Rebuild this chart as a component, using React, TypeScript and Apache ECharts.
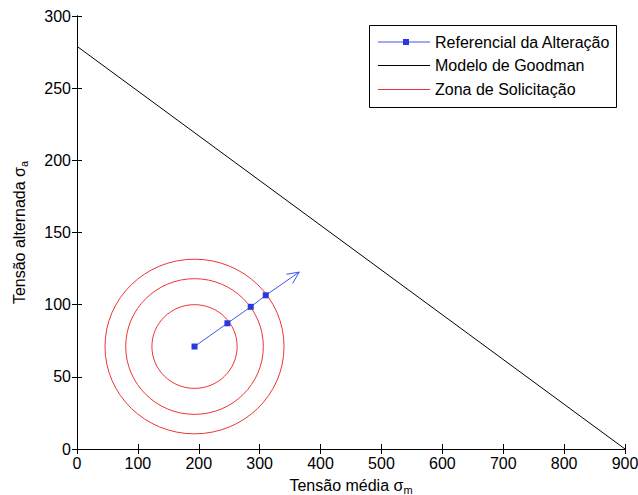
import React, { useEffect, useRef } from "react";
import * as echarts from "echarts";

// ---- Data ----
const seriesNames = ["Referencial da Alteração", "Modelo de Goodman", "Zona de Solicitação"];
const goodmanX = [0, 900];
const goodmanY = [279, 0];
const refX = [193, 247, 285.3, 310, 365];
const refY = [71, 87.1, 98.5, 106.5, 122.6];
const zoneCenter = [193, 71];
const zoneRx = [70, 113, 147];
const zoneRy = [29, 47, 60.5];
const xMin = 0, xMax = 900, xStep = 100;
const yMin = 0, yMax = 300, yStep = 50;

const FONT = "'Liberation Sans', Arial, sans-serif";
const BLUE_LINE = "#4052f0";
const BLUE_MARK = "#2a3ad8";
const RED = "#f03434";

export default function App() {
  const ref = useRef<HTMLDivElement>(null);
  useEffect(() => {
    if (!ref.current) return;
    const chart = echarts.init(ref.current, undefined, { renderer: "svg" });

    const axisCommon = {
      type: "value" as const,
      axisLine: { show: true, lineStyle: { color: "#000", width: 1 } },
      axisTick: { show: true, inside: true, length: 5, lineStyle: { color: "#000" } },
      splitLine: { show: false },
    };
    const nameRich = {
      m: { fontSize: 16, fontFamily: FONT, color: "#000", lineHeight: 20 },
      s: { fontSize: 16, fontFamily: FONT, color: "#000", lineHeight: 20 },
      sub: { fontSize: 11, fontFamily: FONT, color: "#000", verticalAlign: "bottom" as const, lineHeight: 20 },
    };

    const refData = refX.map((x, i) =>
      i === refX.length - 1 ? { value: [x, refY[i]], symbol: "none" } : { value: [x, refY[i]] }
    );
    const n = refX.length;

    chart.setOption({
      animation: false,
      backgroundColor: "#fff",
      grid: { left: 77, right: 13, top: 16, bottom: 46, containLabel: false, outerBoundsMode: "none" },
      xAxis: [
        {
          ...axisCommon,
          min: xMin, max: xMax, interval: xStep,
          position: "bottom",
          axisLabel: { color: "#000", fontSize: 16, fontFamily: FONT, margin: 6 },
          name: "{m|Tensão média }{s|σ}{sub|m}",
          nameLocation: "middle",
          nameGap: 26,
          nameTextStyle: { rich: nameRich },
        },
        {
          ...axisCommon,
          min: xMin, max: xMax, interval: xStep,
          position: "top",
          axisLabel: { show: false },
        },
      ],
      yAxis: [
        {
          ...axisCommon,
          min: yMin, max: yMax, interval: yStep,
          position: "left",
          axisLabel: { color: "#000", fontSize: 16, fontFamily: FONT, margin: 6 },
          name: "{m|Tensão alternada }{s|σ}{sub|a}",
          nameLocation: "middle",
          nameRotate: 90,
          nameGap: 48,
          nameTextStyle: { rich: nameRich },
        },
        {
          ...axisCommon,
          min: yMin, max: yMax, interval: yStep,
          position: "right",
          axisLabel: { show: false },
        },
      ],
      series: [
        {
          name: seriesNames[1],
          type: "line",
          data: goodmanX.map((x, i) => [x, goodmanY[i]]),
          symbol: "none",
          lineStyle: { color: "#000", width: 1 },
          z: 2,
        },
        {
          name: seriesNames[2],
          type: "custom",
          data: zoneRx.map((rx, i) => [zoneCenter[0], zoneCenter[1], rx, zoneRy[i]]),
          encode: { x: 0, y: 1 },
          renderItem: (params: any, api: any) => {
            const c = api.coord([api.value(0), api.value(1)]);
            const s = api.size([api.value(2), api.value(3)]);
            return {
              type: "ellipse",
              shape: { cx: c[0], cy: c[1], rx: s[0], ry: s[1] },
              style: { fill: "none", stroke: RED, lineWidth: 1 },
            };
          },
          z: 3,
        },
        {
          name: seriesNames[0],
          type: "line",
          data: refData,
          symbol: "rect",
          symbolSize: 6,
          itemStyle: { color: BLUE_MARK },
          lineStyle: { color: BLUE_LINE, width: 1 },
          z: 4,
        },
        {
          name: seriesNames[0] + " (seta)",
          type: "custom",
          data: [[refX[n - 1], refY[n - 1], refX[n - 2], refY[n - 2]]],
          encode: { x: 0, y: 1 },
          renderItem: (params: any, api: any) => {
            const t = api.coord([api.value(0), api.value(1)]);
            const p = api.coord([api.value(2), api.value(3)]);
            const ang = Math.atan2(p[1] - t[1], p[0] - t[0]);
            const L = 13;
            const a = (25 * Math.PI) / 180;
            return {
              type: "polyline",
              shape: {
                points: [
                  [t[0] + L * Math.cos(ang + a), t[1] + L * Math.sin(ang + a)],
                  [t[0], t[1]],
                  [t[0] + L * Math.cos(ang - a), t[1] + L * Math.sin(ang - a)],
                ],
              },
              style: { fill: "none", stroke: BLUE_LINE, lineWidth: 1 },
            };
          },
          z: 4,
        },
      ],
      graphic: [
        {
          type: "rect",
          shape: { x: 369.5, y: 25.5, width: 247, height: 82 },
          style: { fill: "#fff", stroke: "#000", lineWidth: 1 },
          z: 100,
        },
        { type: "line", shape: { x1: 378, y1: 42, x2: 430, y2: 42 }, style: { stroke: BLUE_LINE, lineWidth: 1 }, z: 101 },
        { type: "rect", shape: { x: 403, y: 39, width: 6, height: 6 }, style: { fill: BLUE_MARK }, z: 102 },
        { type: "text", x: 435, y: 42, style: { text: seriesNames[0], fontSize: 16, fontFamily: FONT, fill: "#000", verticalAlign: "middle", align: "left" }, z: 101 },
        { type: "line", shape: { x1: 378, y1: 65.5, x2: 430, y2: 65.5 }, style: { stroke: "#000", lineWidth: 1 }, z: 101 },
        { type: "text", x: 435, y: 65.5, style: { text: seriesNames[1], fontSize: 16, fontFamily: FONT, fill: "#000", verticalAlign: "middle", align: "left" }, z: 101 },
        { type: "line", shape: { x1: 378, y1: 89.5, x2: 430, y2: 89.5 }, style: { stroke: RED, lineWidth: 1 }, z: 101 },
        { type: "text", x: 435, y: 89.5, style: { text: seriesNames[2], fontSize: 16, fontFamily: FONT, fill: "#000", verticalAlign: "middle", align: "left" }, z: 101 },
      ],
    });
    return () => chart.dispose();
  }, []);

  return (
    <div
      ref={ref}
      style={{ position: "fixed", left: 0, top: 0, width: 638, height: 495, background: "#fff" }}
    />
  );
}
